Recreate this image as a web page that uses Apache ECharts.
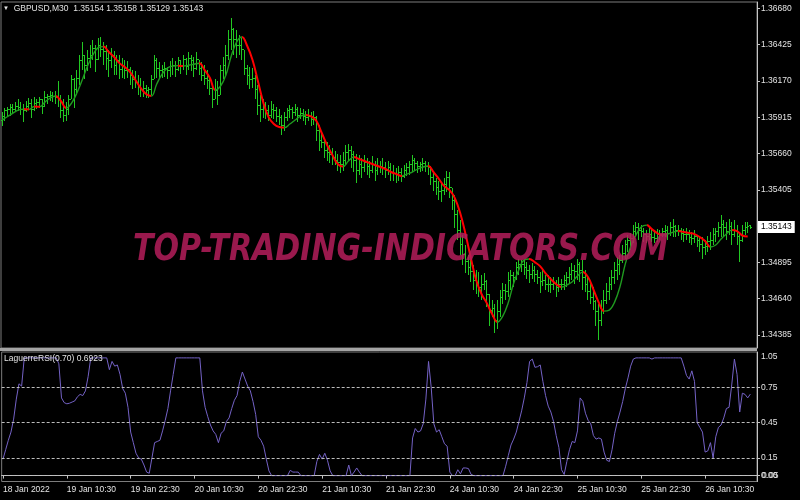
<!DOCTYPE html>
<html><head><meta charset="utf-8">
<script src="https://cdn.jsdelivr.net/npm/echarts@6.0.0/dist/echarts.min.js"></script>
<style>html,body{margin:0;padding:0;background:#000}#c{width:800px;height:500px}</style>
</head><body><div id="c"></div>
<script>
// ---- data (GBPUSD M30 bars) ----
const open=[1.3589,1.3592,1.3596,1.3597,1.3598,1.3597,1.3599,1.3598,1.3597,1.3596,
1.3599,1.3601,1.3597,1.3601,1.3602,1.3604,1.3599,1.3605,1.3606,1.3607,
1.3606,1.3605,1.3604,1.3596,1.3593,1.3597,1.3604,1.3618,1.3611,1.3619,
1.3631,1.3635,1.3628,1.3633,1.3635,1.3640,1.3632,1.3642,1.3639,1.3638,
1.3633,1.3631,1.3635,1.3628,1.3631,1.3625,1.3628,1.3624,1.3625,1.3621,
1.3618,1.3616,1.3614,1.3611,1.3612,1.3610,1.3611,1.3618,1.3631,1.3626,
1.3624,1.3625,1.3626,1.3624,1.3627,1.3628,1.3625,1.3631,1.3627,1.3632,
1.3627,1.3633,1.3631,1.3626,1.3632,1.3626,1.3621,1.3619,1.3617,1.3612,
1.3604,1.3610,1.3607,1.3624,1.3628,1.3635,1.3646,1.3653,1.3646,1.3642,
1.3642,1.3639,1.3626,1.3621,1.3618,1.3619,1.3611,1.3600,1.3597,1.3598,
1.3596,1.3593,1.3597,1.3596,1.3592,1.3591,1.3586,1.3591,1.3596,1.3597,
1.3595,1.3597,1.3593,1.3594,1.3592,1.3591,1.3592,1.3590,1.3591,1.3582,
1.3575,1.3574,1.3568,1.3567,1.3565,1.3563,1.3561,1.3560,1.3558,1.3561,
1.3567,1.3568,1.3565,1.3561,1.3554,1.3558,1.3556,1.3560,1.3557,1.3554,
1.3558,1.3554,1.3557,1.3557,1.3556,1.3554,1.3556,1.3553,1.3552,1.3551,
1.3553,1.3550,1.3554,1.3556,1.3558,1.3561,1.3559,1.3557,1.3558,1.3559,
1.3557,1.3556,1.3549,1.3546,1.3542,1.3539,1.3540,1.3544,1.3549,1.3542,
1.3533,1.3523,1.3512,1.3502,1.3495,1.3490,1.3486,1.3483,1.3477,1.3474,
1.3472,1.3474,1.3476,1.3467,1.3456,1.3457,1.3449,1.3455,1.3465,1.3470,
1.3469,1.3477,1.3480,1.3479,1.3486,1.3488,1.3488,1.3486,1.3484,1.3481,
1.3484,1.3481,1.3479,1.3476,1.3477,1.3474,1.3474,1.3474,1.3475,1.3472,
1.3474,1.3474,1.3477,1.3479,1.3481,1.3484,1.3483,1.3488,1.3484,1.3479,
1.3474,1.3469,1.3465,1.3462,1.3455,1.3449,1.3456,1.3463,1.3469,1.3474,
1.3479,1.3484,1.3488,1.3491,1.3496,1.3502,1.3505,1.3506,1.3511,1.3514,
1.3512,1.3511,1.3509,1.3508,1.3509,1.3507,1.3506,1.3509,1.3509,1.3511,
1.3512,1.3510,1.3514,1.3515,1.3512,1.3512,1.3510,1.3509,1.3509,1.3507,
1.3506,1.3508,1.3505,1.3502,1.3500,1.3501,1.3504,1.3505,1.3509,1.3511,
1.3514,1.3516,1.3514,1.3511,1.3515,1.3509,1.3512,1.3508,1.3505,1.3512,
1.3514,1.35154];
const high=[1.3595,1.3598,1.3599,1.3601,1.3601,1.3602,1.3604,1.3602,1.3601,1.3603,
1.3605,1.3604,1.3606,1.3604,1.3606,1.3604,1.3610,1.3608,1.3610,1.3609,
1.3610,1.3617,1.3607,1.3604,1.3602,1.3607,1.3621,1.3619,1.3625,1.3635,
1.3644,1.3635,1.3639,1.3642,1.3646,1.3642,1.3647,1.3648,1.3644,1.3642,
1.3639,1.3640,1.3638,1.3635,1.3635,1.3633,1.3632,1.3631,1.3627,1.3625,
1.3624,1.3621,1.3619,1.3617,1.3614,1.3613,1.3621,1.3635,1.3633,1.3630,
1.3628,1.3630,1.3627,1.3631,1.3633,1.3631,1.3634,1.3632,1.3635,1.3633,
1.3637,1.3635,1.3634,1.3637,1.3632,1.3630,1.3628,1.3625,1.3620,1.3614,
1.3618,1.3617,1.3628,1.3634,1.3642,1.3653,1.3661,1.3654,1.3653,1.3649,
1.3647,1.3639,1.3628,1.3627,1.3626,1.3621,1.3614,1.3607,1.3604,1.3602,
1.3600,1.3603,1.3601,1.3599,1.3597,1.3593,1.3595,1.3598,1.3600,1.3599,
1.3601,1.3599,1.3598,1.3597,1.3596,1.3597,1.3595,1.3596,1.3592,1.3586,
1.3582,1.3575,1.3574,1.3572,1.3570,1.3568,1.3566,1.3565,1.3567,1.3572,
1.3573,1.3571,1.3568,1.3566,1.3565,1.3563,1.3565,1.3563,1.3561,1.3564,
1.3561,1.3563,1.3561,1.3563,1.3560,1.3561,1.3559,1.3558,1.3556,1.3557,
1.3556,1.3558,1.3559,1.3561,1.3565,1.3563,1.3561,1.3560,1.3563,1.3561,
1.3560,1.3557,1.3554,1.3549,1.3547,1.3545,1.3549,1.3554,1.3553,1.3542,
1.3537,1.3526,1.3519,1.3509,1.3502,1.3495,1.3491,1.3488,1.3484,1.3483,
1.3481,1.3482,1.3477,1.3467,1.3463,1.3460,1.3463,1.3470,1.3475,1.3474,
1.3483,1.3484,1.3483,1.3490,1.3492,1.3491,1.3492,1.3490,1.3488,1.3489,
1.3487,1.3484,1.3483,1.3484,1.3481,1.3481,1.3479,1.3479,1.3477,1.3479,
1.3478,1.3481,1.3483,1.3486,1.3489,1.3488,1.3492,1.3490,1.3491,1.3484,
1.3479,1.3475,1.3472,1.3463,1.3460,1.3463,1.3470,1.3475,1.3479,1.3484,
1.3490,1.3493,1.3495,1.3502,1.3505,1.3509,1.3510,1.3516,1.3518,1.3517,
1.3516,1.3514,1.3512,1.3514,1.3512,1.3511,1.3513,1.3512,1.3514,1.3516,
1.3515,1.3518,1.3520,1.3516,1.3516,1.3514,1.3513,1.3514,1.3512,1.3511,
1.3512,1.3509,1.3508,1.3507,1.3505,1.3508,1.3511,1.3514,1.3514,1.3518,
1.3523,1.3519,1.3518,1.3520,1.3518,1.3519,1.3516,1.3510,1.3516,1.3518,
1.3518,1.35158];
const low=[1.3585,1.3589,1.3592,1.3592,1.3594,1.3595,1.3596,1.3593,1.3588,1.3595,
1.3597,1.3591,1.3596,1.3597,1.3598,1.3594,1.3599,1.3601,1.3603,1.3602,
1.3601,1.3599,1.3591,1.3588,1.3589,1.3593,1.3604,1.3598,1.3607,1.3614,
1.3625,1.3618,1.3624,1.3626,1.3632,1.3623,1.3632,1.3634,1.3628,1.3625,
1.3620,1.3626,1.3621,1.3621,1.3618,1.3619,1.3618,1.3619,1.3614,1.3611,
1.3612,1.3607,1.3606,1.3606,1.3605,1.3605,1.3607,1.3618,1.3619,1.3618,
1.3619,1.3620,1.3618,1.3620,1.3621,1.3620,1.3624,1.3622,1.3625,1.3621,
1.3625,1.3624,1.3620,1.3625,1.3621,1.3617,1.3614,1.3611,1.3607,1.3598,
1.3604,1.3600,1.3607,1.3618,1.3620,1.3632,1.3639,1.3635,1.3633,1.3635,
1.3632,1.3621,1.3614,1.3611,1.3612,1.3604,1.3593,1.3588,1.3591,1.3590,
1.3589,1.3591,1.3590,1.3588,1.3586,1.3579,1.3582,1.3589,1.3591,1.3590,
1.3592,1.3588,1.3590,1.3589,1.3586,1.3589,1.3585,1.3586,1.3575,1.3568,
1.3570,1.3563,1.3561,1.3559,1.3558,1.3558,1.3554,1.3552,1.3554,1.3558,
1.3561,1.3556,1.3553,1.3545,1.3551,1.3549,1.3553,1.3551,1.3549,1.3552,
1.3547,1.3551,1.3552,1.3551,1.3549,1.3551,1.3547,1.3547,1.3545,1.3547,
1.3546,1.3549,1.3550,1.3551,1.3553,1.3554,1.3552,1.3553,1.3554,1.3553,
1.3551,1.3544,1.3540,1.3537,1.3533,1.3532,1.3537,1.3539,1.3535,1.3526,
1.3514,1.3505,1.3495,1.3488,1.3482,1.3481,1.3476,1.3470,1.3467,1.3465,
1.3463,1.3470,1.3458,1.3445,1.3451,1.3440,1.3443,1.3451,1.3460,1.3463,
1.3465,1.3470,1.3472,1.3477,1.3481,1.3483,1.3481,1.3478,1.3475,1.3478,
1.3476,1.3474,1.3468,1.3473,1.3470,1.3469,1.3468,1.3470,1.3465,1.3469,
1.3470,1.3470,1.3472,1.3474,1.3477,1.3474,1.3477,1.3476,1.3470,1.3469,
1.3463,1.3460,1.3456,1.3445,1.3435,1.3445,1.3453,1.3460,1.3463,1.3470,
1.3474,1.3477,1.3481,1.3489,1.3492,1.3497,1.3498,1.3503,1.3507,1.3505,
1.3507,1.3504,1.3503,1.3505,1.3504,1.3503,1.3504,1.3505,1.3507,1.3507,
1.3505,1.3508,1.3507,1.3507,1.3508,1.3505,1.3504,1.3505,1.3503,1.3502,
1.3503,1.3500,1.3497,1.3492,1.3495,1.3497,1.3498,1.3502,1.3504,1.3507,
1.3507,1.3507,1.3505,1.3509,1.3502,1.3507,1.3502,1.3490,1.3504,1.3509,
1.3510,1.35129];
const close=[1.3592,1.3596,1.3597,1.3598,1.3597,1.3599,1.3598,1.3597,1.3596,1.3599,
1.3601,1.3597,1.3601,1.3602,1.3604,1.3599,1.3605,1.3606,1.3607,1.3606,
1.3605,1.3604,1.3596,1.3593,1.3597,1.3604,1.3618,1.3611,1.3619,1.3631,
1.3635,1.3628,1.3633,1.3635,1.3640,1.3632,1.3642,1.3639,1.3638,1.3633,
1.3631,1.3635,1.3628,1.3631,1.3625,1.3628,1.3624,1.3625,1.3621,1.3618,
1.3616,1.3614,1.3611,1.3612,1.3610,1.3611,1.3618,1.3631,1.3626,1.3624,
1.3625,1.3626,1.3624,1.3627,1.3628,1.3625,1.3631,1.3627,1.3632,1.3627,
1.3633,1.3631,1.3626,1.3632,1.3626,1.3621,1.3619,1.3617,1.3612,1.3604,
1.3610,1.3607,1.3624,1.3628,1.3635,1.3646,1.3653,1.3646,1.3642,1.3642,
1.3639,1.3626,1.3621,1.3618,1.3619,1.3611,1.3600,1.3597,1.3598,1.3596,
1.3593,1.3597,1.3596,1.3592,1.3591,1.3586,1.3591,1.3596,1.3597,1.3595,
1.3597,1.3593,1.3594,1.3592,1.3591,1.3592,1.3590,1.3591,1.3582,1.3575,
1.3574,1.3568,1.3567,1.3565,1.3563,1.3561,1.3560,1.3558,1.3561,1.3567,
1.3568,1.3565,1.3561,1.3554,1.3558,1.3556,1.3560,1.3557,1.3554,1.3558,
1.3554,1.3557,1.3557,1.3556,1.3554,1.3556,1.3553,1.3552,1.3551,1.3553,
1.3550,1.3554,1.3556,1.3558,1.3561,1.3559,1.3557,1.3558,1.3559,1.3557,
1.3556,1.3549,1.3546,1.3542,1.3539,1.3540,1.3544,1.3549,1.3542,1.3533,
1.3523,1.3512,1.3502,1.3495,1.3490,1.3486,1.3483,1.3477,1.3474,1.3472,
1.3474,1.3476,1.3467,1.3456,1.3457,1.3449,1.3455,1.3465,1.3470,1.3469,
1.3477,1.3480,1.3479,1.3486,1.3488,1.3488,1.3486,1.3484,1.3481,1.3484,
1.3481,1.3479,1.3476,1.3477,1.3474,1.3474,1.3474,1.3475,1.3472,1.3474,
1.3474,1.3477,1.3479,1.3481,1.3484,1.3483,1.3488,1.3484,1.3479,1.3474,
1.3469,1.3465,1.3462,1.3455,1.3449,1.3456,1.3463,1.3469,1.3474,1.3479,
1.3484,1.3488,1.3491,1.3496,1.3502,1.3505,1.3506,1.3511,1.3514,1.3512,
1.3511,1.3509,1.3508,1.3509,1.3507,1.3506,1.3509,1.3509,1.3511,1.3512,
1.3510,1.3514,1.3515,1.3512,1.3512,1.3510,1.3509,1.3509,1.3507,1.3506,
1.3508,1.3505,1.3502,1.3500,1.3501,1.3504,1.3505,1.3509,1.3511,1.3514,
1.3516,1.3514,1.3511,1.3515,1.3509,1.3512,1.3508,1.3505,1.3512,1.3514,
1.3515,1.35143];
// moving average, one value every MA_STEP bars
const MA_STEP=2;
const ma=[1.35895,1.35920,1.35944,1.35965,1.35972,1.35970,1.35990,1.35988,1.36021,1.36050,
1.36064,1.36029,1.35979,1.36014,1.36085,1.36176,1.36274,1.36352,1.36404,1.36411,
1.36373,1.36338,1.36295,1.36267,1.36232,1.36176,1.36120,1.36078,1.36064,1.36148,
1.36218,1.36260,1.36274,1.36277,1.36274,1.36280,1.36287,1.36294,1.36246,1.36190,
1.36106,1.36134,1.36211,1.36345,1.36443,1.36478,1.36415,1.36317,1.36169,1.36021,
1.35916,1.35867,1.35846,1.35842,1.35867,1.35895,1.35923,1.35930,1.35920,1.35888,
1.35804,1.35719,1.35649,1.35586,1.35568,1.35607,1.35635,1.35621,1.35607,1.35593,
1.35579,1.35565,1.35551,1.35530,1.35516,1.35502,1.35516,1.35530,1.35551,1.35565,
1.35572,1.35530,1.35481,1.35431,1.35403,1.35347,1.35242,1.35094,1.34926,1.34771,
1.34673,1.34609,1.34532,1.34476,1.34518,1.34609,1.34743,1.34841,1.34912,1.34919,
1.34897,1.34869,1.34820,1.34778,1.34743,1.34722,1.34736,1.34757,1.34799,1.34827,
1.34792,1.34708,1.34616,1.34553,1.34560,1.34616,1.34722,1.34883,1.35003,1.35087,
1.35143,1.35157,1.35129,1.35101,1.35087,1.35094,1.35108,1.35115,1.35108,1.35101,
1.35094,1.35073,1.35045,1.35003,1.35017,1.35059,1.35094,1.35122,1.35115,1.35084,
1.35077];
const rsi=[0.14,0.22,0.30,0.37,0.48,0.65,0.78,0.76,1,1,
1,1,1,1,1,1,1,1,1,1,
1,0.95,0.66,0.62,0.61,0.615,0.625,0.635,0.67,0.69,
0.68,0.72,0.84,1,1,1,1,1,1,1,
0.90,0.97,0.93,0.94,0.86,0.74,0.70,0.58,0.37,0.28,
0.19,0.15,0.14,0.09,0.03,0.02,0.15,0.28,0.29,0.30,
0.38,0.47,0.57,0.72,0.86,1,1,1,1,1,
1,1,1,1,1,0.72,0.58,0.50,0.43,0.38,
0.35,0.28,0.36,0.38,0.46,0.49,0.57,0.64,0.68,0.80,
0.88,0.82,0.76,0.72,0.63,0.52,0.33,0.30,0.25,0.14,
0.04,0,0,0,0,0,0,0,0.045,0.03,
0.03,0.03,0,0,0,0,0,0,0.12,0.18,
0.14,0.19,0.13,0.04,0,0,0,0,0,0,
0.09,0,0.03,0.065,0.03,0,0,0,0,0,
0,0,0,0,0,0,0,0,0,0,
0,0,0,0,0.32,0.40,0.37,0.38,0.44,0.65,
0.97,0.75,0.44,0.37,0.39,0.33,0.27,0.25,0.03,0,
0,0.05,0.015,0.065,0.065,0.06,0.01,0,0,0,
0,0,0,0,0,0,0,0,0,0.08,
0.17,0.26,0.31,0.37,0.46,0.55,0.66,0.79,0.97,0.99,
0.92,0.925,0.94,0.80,0.68,0.59,0.54,0.46,0.34,0.24,
0.05,0.01,0.12,0.22,0.29,0.28,0.38,0.66,0.63,0.53,
0.47,0.44,0.34,0.31,0.32,0.31,0.20,0.13,0.12,0.22,
0.36,0.46,0.54,0.63,0.74,0.83,0.93,0.99,1,1,
1,1,1,1,0.99,1,1,1,1,1,
1,1,1,1,1,1,0.93,0.85,0.82,0.89,
0.80,0.45,0.41,0.37,0.20,0.21,0.28,0.15,0.33,0.41,
0.43,0.49,0.57,0.58,0.77,0.99,0.86,0.54,0.70,0.69,
0.66,0.6923];
const priceTicks=[1.36680,1.36425,1.36170,1.35915,1.35660,1.35405,1.34895,1.34640,1.34385];
const rsiLevels=[0.75,0.45,0.15,0];
const rsiTickLabels=[0.75,0.45,0.15,0];
const rsiTop=1.05, rsiBottomLabel='0.05';
const symbolName='GBPUSD,M30';
const indicatorName='LaguerreRSI(0.70)';
const watermark='TOP-TRADING-INDICATORS.COM';
const firstBarTime=Date.UTC(2022,0,18,22,30);
const FUTURE_SLOTS=2;
const LABEL_EVERY=24;

// ---- categories (M30 bar times, weekend skipped) ----
const MONTHS=['Jan','Feb','Mar','Apr','May','Jun','Jul','Aug','Sep','Oct','Nov','Dec'];
const nCats=close.length+FUTURE_SLOTS;
const times=[];
for(let t=firstBarTime; times.length<nCats; t+=1800000){
  const wd=new Date(t).getUTCDay();
  if(wd===6||wd===0) continue;
  times.push(t);
}
const pad=n=>String(n).padStart(2,'0');
const categories=times.map(t=>{const d=new Date(t);return d.getUTCDate()+' '+MONTHS[d.getUTCMonth()]+' '+pad(d.getUTCHours())+':'+pad(d.getUTCMinutes());});
const firstLabel=(()=>{const d=new Date(times[0]);return d.getUTCDate()+' '+MONTHS[d.getUTCMonth()]+' '+d.getUTCFullYear();})();

const FONT='"Liberation Sans", Arial, sans-serif';
const TXT='#e4e4e4', AX='#c4c4c4', FRAME='#7c7c7c';
const BAR_COLOR='#22c822';
const L=close.length-1;
const f5=v=>v.toFixed(5);

const barData=close.map((c,i)=>[i,open[i],high[i],low[i],c]);
const maData=ma.map((v,k)=>[k*MA_STEP,v]);
function pieces(falling,color){
  const out=[];
  for(let k=0;k<ma.length-1;k++){
    if((ma[k+1]<ma[k])!==falling) continue;
    const a=k*MA_STEP,b=(k+1)*MA_STEP,last=out[out.length-1];
    if(last&&last.lte===a) last.lte=b; else out.push({gte:a,lte:b,color});
  }
  return out;
}
function renderBar(params,api){
  const i=api.value(0);
  const ph=api.coord([i,api.value(2)]),pl=api.coord([i,api.value(3)]);
  const po=api.coord([i,api.value(1)]),pc=api.coord([i,api.value(4)]);
  const x=Math.round(ph[0]-0.5)+0.5;
  const yh=Math.round(ph[1]),yl=Math.max(Math.round(pl[1]),yh+1);
  const yo=Math.round(po[1]-0.5)+0.5,yc=Math.round(pc[1]-0.5)+0.5;
  const st={stroke:BAR_COLOR,lineWidth:1};
  return {type:'group',silent:true,children:[
    {type:'line',shape:{x1:x,y1:yh,x2:x,y2:yl},style:st},
    {type:'line',shape:{x1:x-1.5,y1:yo,x2:x-0.5,y2:yo},style:st},
    {type:'line',shape:{x1:x+0.5,y1:yc,x2:x+1.5,y2:yc},style:st}
  ]};
}
const labelEvery=(idx)=>idx%LABEL_EVERY===0;

// watermark width fit
const WM_SIZE=38;
const cv=document.createElement('canvas').getContext('2d');
cv.font='italic bold '+WM_SIZE+'px "DejaVu Sans"';
const wmScale=535/cv.measureText(watermark).width;

// price axis range (panel edges beyond first/last tick)
const PMIN=1.342937, PMAX=1.367243;
const baseLabel={color:TXT,fontSize:8.5,fontFamily:FONT};

const chart=echarts.init(document.getElementById('c'),null,{renderer:'canvas'});
chart.setOption({
  backgroundColor:'#000',
  animation:false,
  textStyle:{fontFamily:FONT},
  title:[
    {text:'{t|▼}  '+symbolName+'  '+f5(open[L])+' '+f5(high[L])+' '+f5(low[L])+' '+f5(close[L]),
     left:3,top:4,padding:0,textStyle:Object.assign({fontWeight:'normal',rich:{t:{fontSize:6,color:TXT}}},baseLabel)},
    {text:indicatorName+' '+rsi[rsi.length-1].toFixed(4),left:4,top:354,padding:0,
     textStyle:Object.assign({fontWeight:'normal'},baseLabel)}
  ],
  grid:[
    {left:1,top:2,width:756,height:346,show:true,borderColor:FRAME,borderWidth:1,backgroundColor:'transparent'},
    {left:1,top:352,width:756,height:129.5,show:true,borderColor:FRAME,borderWidth:1,backgroundColor:'transparent'}
  ],
  xAxis:[
    {gridIndex:0,type:'category',data:categories,show:false},
    {gridIndex:1,type:'category',data:categories,
     axisLine:{lineStyle:{color:AX}},
     axisTick:{show:true,interval:labelEvery,alignWithLabel:true,length:3,lineStyle:{color:AX}},
     axisLabel:Object.assign({interval:labelEvery,align:'left',margin:4,
       formatter:(v,idx)=>idx===0?firstLabel:v},baseLabel),
     splitLine:{show:false}}
  ],
  yAxis:[
    {gridIndex:0,type:'value',position:'right',min:PMIN,max:PMAX,splitLine:{show:false},
     axisLine:{show:true,lineStyle:{color:AX}},
     axisTick:{show:true,length:3,customValues:priceTicks,lineStyle:{color:AX}},
     axisLabel:Object.assign({customValues:priceTicks,formatter:v=>v.toFixed(5),margin:4},baseLabel)},
    {gridIndex:0,type:'value',position:'right',min:PMIN,max:PMAX,splitLine:{show:false},
     axisLine:{show:false},axisTick:{show:false},
     axisLabel:{customValues:[close[L]],formatter:v=>v.toFixed(5),margin:1,color:'#000',
       backgroundColor:'#ffffff',padding:[2,3,1,3],fontSize:8.5,fontFamily:FONT}},
    {gridIndex:1,type:'value',position:'right',min:-0.05,max:1.05,splitLine:{show:false},
     axisLine:{show:true,lineStyle:{color:AX}},
     axisTick:{show:true,length:3,customValues:rsiLevels,lineStyle:{color:AX}},
     axisLabel:Object.assign({customValues:rsiTickLabels,formatter:v=>v.toFixed(2),margin:4},baseLabel)},
    {gridIndex:1,type:'value',position:'right',min:-0.05,max:1.05,splitLine:{show:false},
     axisLine:{show:false},axisTick:{show:false},
     axisLabel:Object.assign({customValues:[rsiTop],formatter:v=>v.toFixed(2),margin:4,verticalAlign:'top'},baseLabel)},
    {gridIndex:1,type:'value',position:'right',min:-0.05,max:1.05,splitLine:{show:false},
     axisLine:{show:false},axisTick:{show:false},
     axisLabel:Object.assign({customValues:[0],formatter:()=>rsiBottomLabel,margin:5},baseLabel)}
  ],
  visualMap:[
    {type:'piecewise',show:false,dimension:0,seriesIndex:1,pieces:pieces(false,'#1f9a1f'),outOfRange:{color:'rgba(0,0,0,0)'}},
    {type:'piecewise',show:false,dimension:0,seriesIndex:2,pieces:pieces(true,'#ff0000'),outOfRange:{color:'rgba(0,0,0,0)'}}
  ],
  series:[
    {type:'custom',name:'bars',xAxisIndex:0,yAxisIndex:0,data:barData,renderItem:renderBar,
     encode:{x:0,y:[1,2,3,4]},silent:true,z:2},
    {type:'line',name:'ma-up',xAxisIndex:0,yAxisIndex:0,data:maData,smooth:0.4,showSymbol:false,
     symbol:'none',lineStyle:{width:1.4},silent:true,z:3},
    {type:'line',name:'ma-down',xAxisIndex:0,yAxisIndex:0,data:maData,smooth:0.4,showSymbol:false,
     symbol:'none',lineStyle:{width:2},silent:true,z:4},
    {type:'line',name:'rsi',xAxisIndex:1,yAxisIndex:2,data:rsi,showSymbol:false,symbol:'none',
     lineStyle:{width:1,color:'#7462c6'},itemStyle:{color:'#7462c6'},silent:true,z:3,
     markLine:{silent:true,symbol:['none','none'],label:{show:false},animation:false,
       lineStyle:{color:'#bcbcbc',type:[3,2],width:1},
       data:rsiLevels.map(v=>({yAxis:v}))}}
  ],
  graphic:[
    {type:'rect',shape:{x:0,y:348,width:757,height:3},style:{fill:'#a4a4a4'},z:50,silent:true},
    {type:'text',x:400.5,y:250,scaleX:wmScale,z:100,silent:true,
     style:{text:watermark,fontSize:WM_SIZE,fontFamily:'"DejaVu Sans"',fontWeight:'bold',fontStyle:'italic',
       fill:'#b41d5a',opacity:0.85,align:'center',verticalAlign:'middle'}}
  ]
});
</script>
</body></html>
